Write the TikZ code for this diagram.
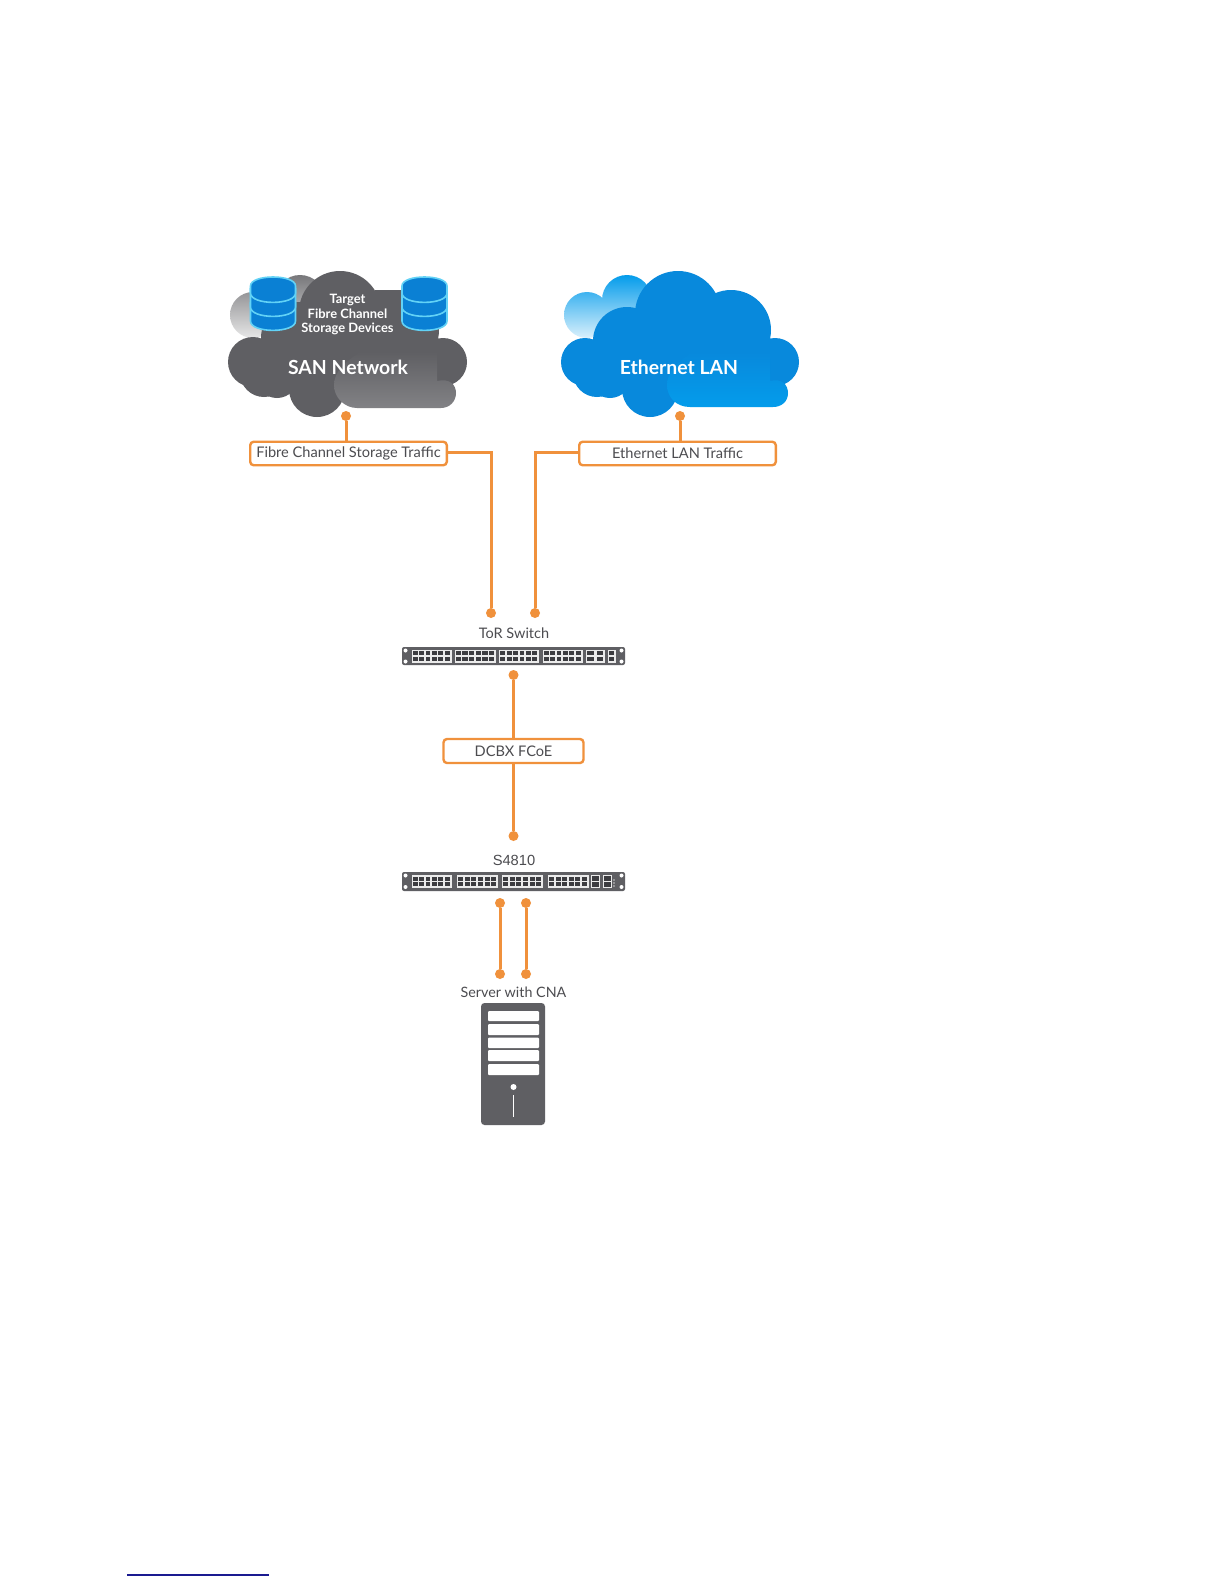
\documentclass[tikz,border=0pt]{standalone}
\usepackage{fontspec}
\setmainfont{Lato}
\newfontfamily\arialish{Liberation Sans}
\definecolor{orangeline}{HTML}{F0913C}
\definecolor{labelgray}{HTML}{4C4C50}
\definecolor{sandark}{HTML}{5F5F63}
\definecolor{portdark}{HTML}{3C3C40}
\definecolor{sanfront}{HTML}{828285}
\definecolor{lanmain}{HTML}{0889DC}
\definecolor{lanfront}{HTML}{049CEB}
\definecolor{dbblue}{HTML}{0A80D4}
\definecolor{dbedge}{HTML}{62D2F6}
\definecolor{linkblue}{HTML}{1A1A90}
\tikzset{
  x=1pt,y=-1pt,
  labelbox/.style={draw=orangeline,line width=2.4pt,rounded corners=3.5pt,fill=white,inner sep=0pt,minimum height=23.5pt,text=labelgray,font=\fontsize{14.6}{18}\selectfont},
  link/.style={draw=orangeline,line width=3pt},
  linkdot/.style={circle,fill=orangeline,inner sep=0pt,minimum size=10pt},
  capt/.style={text=labelgray,font=\fontsize{14.5}{18}\selectfont,inner sep=0pt},
  cloudtext/.style={text=white,font=\bfseries\fontsize{12.9}{14.5}\selectfont,inner sep=0pt,align=center},
  cloudtitle/.style={text=white,font=\bfseries\fontsize{19.4}{22}\selectfont,inner sep=0pt},
  dbpart/.style={fill=dbblue,draw=dbedge,line width=1.6pt},
  dbstack/.pic={
    \path[dbpart] (-22.5,26) -- (-22.5,44) .. controls (-22.5,56.5) and (22.5,56.5) .. (22.5,44) -- (22.5,26) -- cycle;
    \path[dbpart] (-22.5,12) -- (-22.5,30) .. controls (-22.5,42.5) and (22.5,42.5) .. (22.5,30) -- (22.5,12) -- cycle;
    \path[dbpart] (-22.5,9) -- (-22.5,16) .. controls (-22.5,28.5) and (22.5,28.5) .. (22.5,16) -- (22.5,9) .. controls (22.5,-3) and (-22.5,-3) .. (-22.5,9) -- cycle;
  },
  portgroup/.pic={
    \fill[white!92!black] (0,0) rectangle (#1,13);
    \foreach \i in {0,...,5}{
      \fill[portdark] ({1.3+\i*(#1-1.5)/6},1.6) rectangle ({\i*(#1-1.5)/6+(#1-1.5)/6-0.3},5.6);
      \fill[portdark] ({1.3+\i*(#1-1.5)/6},7.4) rectangle ({\i*(#1-1.5)/6+(#1-1.5)/6-0.3},11.4);
    }
  },
  sfpgroup/.pic={
    \fill[white!92!black] (0,0) rectangle (#1,13);
    \fill[portdark] (1.2,1.4) rectangle (#1-1.2,5.8);
    \fill[portdark] (1.2,7.2) rectangle (#1-1.2,11.6);
  }
}
\newcommand{\holes}[4]{%
  \foreach \hx/\hy in {#1/#3,#1/#4,#2/#3,#2/#4}{\fill[white] (\hx,\hy) circle[radius=2pt];}%
}
\begin{document}
\begin{tikzpicture}
\useasboundingbox (0,0) rectangle (1224,1584);
\fill[white] (0,0) rectangle (1224,1584);

% ---- SAN cloud
\begin{scope}
  \clip (253,315) circle[radius=23pt] (300,300) circle[radius=25pt];
  \shade[top color=sandark!85,bottom color=black!8] (225,275) rectangle (330,340);
\end{scope}
\foreach \cx/\cy/\cr in {340/312/41, 399/330/40, 297/338/36, 253/362/25, 443/362/24, 264/373/24, 277/377/21, 317/389/28, 390/380/25}{
  \fill[sandark] (\cx,\cy) circle[radius=\cr pt];
}
\fill[sandark] (375,290) rectangle (400,330);
\fill[sandark] (290,320) rectangle (438,385);
\shade[top color=sandark,bottom color=sanfront]
  (357,408) .. controls (345,408) and (334,398) .. (334,385) .. controls (334,372) and (345,362) .. (360,352)
  -- (437,352) -- (437,381) .. controls (450,378) and (456,385) .. (456,393) .. controls (456,402) and (449,408) .. (441,408) -- cycle;
\pic at (273,277) {dbstack};
\pic at (424.5,277) {dbstack};
\node[cloudtext] (santarget) at (347.5,314.5) {Target\\Fibre Channel\\Storage Devices};
\node[cloudtitle] (santitle) at (348,367) {SAN Network};

% ---- LAN cloud
\begin{scope}
  \clip (587,315) circle[radius=23pt] (627,300) circle[radius=25pt];
  \shade[top color=lanfront,middle color=lanfront!75,bottom color=lanfront!12] (560,275) rectangle (660,340);
\end{scope}
\foreach \cx/\cy/\cr in {678/314/43, 731/330/40, 627/341/34, 585/362/24, 775/362/24, 597/373/24, 610/377/21, 650/389/28, 725/380/25}{
  \fill[lanmain] (\cx,\cy) circle[radius=\cr pt];
}
\fill[lanmain] (620,330) rectangle (770,385);
\shade[top color=lanmain,bottom color=lanfront]
  (690,407) .. controls (676,407) and (667,397) .. (667,385) .. controls (667,372) and (678,362) .. (692,352)
  -- (770,352) -- (770,381) .. controls (782,378) and (788,385) .. (788,393) .. controls (788,402) and (781,407) .. (773,407) -- cycle;
\node[cloudtitle] (lantitle) at (679,367) {Ethernet LAN};

% ---- label boxes
\node[labelbox,minimum width=196.6pt] (fibrebox) at (348.5,453.5) {Fibre Channel Storage Traffic};
\node[labelbox,minimum width=196.6pt] (ethbox) at (677.5,453.5) {Ethernet LAN Traffic};
\node[labelbox,minimum width=140pt,minimum height=24pt] (dcbxbox) at (513.5,751) {DCBX FCoE};

% ---- connection dots
\node[linkdot] (sandot) at (346,416) {};
\node[linkdot] (landot) at (680,416) {};
\node[linkdot] (tora) at (491,613) {};
\node[linkdot] (torb) at (535,613) {};
\node[linkdot] (torc) at (513.5,675) {};
\node[linkdot] (sfour) at (513.5,836) {};
\node[linkdot] (sfourb) at (500,903) {};
\node[linkdot] (sfourc) at (526,903) {};
\node[linkdot] (srva) at (500,974) {};
\node[linkdot] (srvb) at (526,974) {};

% ---- connectors
\draw[link] (sandot) -- (sandot |- fibrebox.north);
\draw[link] (landot) -- (landot |- ethbox.north);
\draw[link] ([yshift=1.5pt]fibrebox.east) -| (tora);
\draw[link] ([yshift=1.5pt]ethbox.west) -| (torb);
\draw[link] (torc) -- (dcbxbox.north -| torc);
\draw[link] (dcbxbox.south -| sfour) -- (sfour);
\draw[link] (sfourb) -- (srva);
\draw[link] (sfourc) -- (srvb);

% ---- ToR switch
\node[capt] (torlabel) at (514,633) {ToR Switch};
\fill[sandark,rounded corners=2pt] (402,647) rectangle (625,665);
\holes{405.5}{621.5}{650.5}{661.5}
\pic at (411.5,649.5) {portgroup=40};
\pic at (454.5,649.5) {portgroup=41.5};
\pic at (499,649.5) {portgroup=40};
\pic at (542.5,649.5) {portgroup=40};
\pic at (586,649.5) {sfpgroup=9.5};
\pic at (595.5,649.5) {sfpgroup=9};
\pic at (608,649.5) {sfpgroup=7.5};

% ---- S4810
\node[text=labelgray,inner sep=0pt,font=\arialish\fontsize{14.7}{18}\selectfont] (s4810label) at (514,860) {S4810};
\fill[sandark,rounded corners=2pt] (402,872) rectangle (625,891);
\holes{405.5}{621.5}{875.5}{887}
\pic at (411.5,875) {portgroup=40};
\pic at (457,875) {portgroup=41};
\pic at (502,875) {portgroup=41};
\pic at (548,875) {portgroup=40.5};
\pic at (590.5,875) {sfpgroup=9.5};
\pic at (602.5,875) {sfpgroup=9.5};
\foreach \dy in {880,883,886}{\fill[white!80!black] (614,\dy) circle[radius=0.8pt];}

% ---- Server
\node[capt,font=\fontsize{14.3}{18}\selectfont] (srvlabel) at (513.5,992) {Server with CNA};
\fill[sandark,rounded corners=3.5pt] (481,1003) rectangle (545,1125);
\foreach \ya/\yb in {1011/1021, 1024/1035, 1037.5/1048, 1050/1061, 1064/1075}{
  \fill[white,rounded corners=1pt] (488,\ya) rectangle (539,\yb);
}
\fill[white] (513.5,1087) circle[radius=3pt];
\draw[white,line width=1pt] (513.5,1095) -- (513.5,1117);

% ---- footer rule
\coordinate (rulea) at (127,1575);
\coordinate (ruleb) at (269,1575);
\draw[linkblue,line width=1.2pt] (rulea) -- (ruleb);
\end{tikzpicture}
\end{document}
